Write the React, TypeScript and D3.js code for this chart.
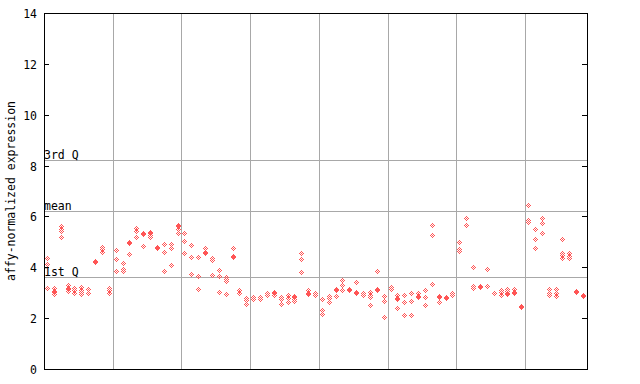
import React from "react";
import * as d3 from "d3";

const yTicks = [0, 2, 4, 6, 8, 10, 12, 14];
const groupSize = 10;
const quartileLabels = ["3rd Q", "mean", "1st Q"];
const quartileValues = [8.22, 6.21, 3.62];

const expression: number[][] = [
  [4.36, 4.12, 3.15],
  [3.16, 3.06, 3.02, 2.94],
  [5.62, 5.5, 5.42, 5.16],
  [3.27, 3.18, 3.14, 3.06],
  [3.18, 3.08, 2.96],
  [3.2, 3.1, 3.0, 2.93],
  [3.11, 2.95],
  [4.23, 4.19],
  [4.79, 4.71, 4.59],
  [3.18, 3.08, 2.98],
  [4.65, 4.32, 3.82],
  [4.16, 3.9, 3.83],
  [4.99, 4.92, 4.52],
  [5.54, 5.41, 5.19],
  [5.34, 5.28, 4.83],
  [5.36, 5.32, 5.24, 5.19],
  [4.76, 4.72],
  [4.91, 4.59, 3.82],
  [4.91, 4.75, 4.06],
  [5.66, 5.62, 5.5, 5.34],
  [5.31, 5.03, 4.53],
  [4.87, 4.4, 3.71],
  [4.4, 3.65, 3.14],
  [4.72, 4.6, 4.56],
  [4.33, 4.25, 3.69],
  [3.89, 3.65, 3.02],
  [3.61, 3.53, 3.44, 2.94],
  [4.75, 4.43, 4.39],
  [3.07, 2.98],
  [2.77, 2.68, 2.55],
  [2.82, 2.74],
  [2.82, 2.74],
  [2.95, 2.91],
  [3.02, 2.95, 2.91],
  [2.82, 2.74, 2.55],
  [2.91, 2.77, 2.63],
  [2.87, 2.8, 2.72, 2.64],
  [4.53, 4.32, 3.78],
  [3.1, 2.96, 2.92],
  [2.95, 2.91],
  [2.74, 2.3, 2.13],
  [2.85, 2.76, 2.63],
  [3.12, 3.08, 2.85],
  [3.5, 3.29, 3.1],
  [3.12, 3.08],
  [3.39, 3.01, 2.97],
  [2.95, 2.91],
  [2.99, 2.9, 2.82, 2.51],
  [3.85, 3.12, 3.08],
  [2.86, 2.67, 2.04],
  [3.2, 3.12],
  [2.9, 2.78, 2.74, 2.39],
  [2.9, 2.6, 2.11],
  [2.98, 2.67, 2.11],
  [2.95, 2.85, 2.81],
  [3.07, 2.82, 2.51],
  [5.63, 5.24, 3.33],
  [2.87, 2.83, 2.63],
  [2.83, 2.79],
  [2.95, 2.91],
  [4.99, 4.68, 4.64],
  [5.93, 5.66],
  [4.0, 3.26, 3.18],
  [3.26, 3.22],
  [3.92, 3.26],
  [2.98],
  [3.08, 2.99, 2.89],
  [3.14, 3.04, 2.96, 2.92],
  [3.11, 3.02, 2.98],
  [2.47, 2.43],
  [6.42, 5.83, 5.75],
  [5.5, 5.1, 4.75],
  [5.91, 5.74, 5.34],
  [3.14, 2.95, 2.91],
  [3.11, 2.98, 2.85],
  [5.1, 4.55, 4.45, 4.36],
  [4.53, 4.42, 4.33],
  [3.05, 3.01],
  [2.89, 2.85],
];

const sampleIds = expression.map((_, i) => `s${i}`);

const W = 640;
const H = 384;
const left = 44;
const right = 587;
const top = 13;
const bottom = 369;
const red = "#ff5555";
const grid = "#a8a8a8";
const font = "'DejaVu Sans Mono', 'Liberation Mono', monospace";

// checker-patterned diamond sprite (radius 2)
const sprite: [number, number][] = [];
for (let dy = -2; dy <= 2; dy++)
  for (let dx = -2; dx <= 2; dx++)
    if (Math.abs(dx) + Math.abs(dy) <= 2 && (dx + dy) % 2 === 0) sprite.push([dx, dy]);

export default function App() {
  const x = d3.scaleBand<string>().domain(sampleIds).range([left, right]);
  const y = d3.scaleLinear().domain([0, 14]).range([bottom, top]);
  const bw = x.bandwidth();

  const groupLines: number[] = [];
  for (let g = groupSize; g < sampleIds.length; g += groupSize) {
    groupLines.push(Math.round(left + bw * g) + 0.5);
  }

  const points: { px: number; py: number; key: string }[] = [];
  expression.forEach((vals, i) => {
    const cx = (x(sampleIds[i]) as number) + bw / 2;
    vals.forEach((v, j) => {
      points.push({ px: Math.round(cx - 0.5), py: Math.round(y(v) - 0.5), key: `${i}-${j}` });
    });
  });

  return (
    <svg
      width={W}
      height={H}
      style={{ position: "absolute", left: 0, top: 0, background: "#fff" }}
      shapeRendering="crispEdges"
    >
      <defs>
        <g id="dm">
          {sprite.map(([dx, dy], k) => (
            <rect key={k} x={dx} y={dy} width={1} height={1} fill={red} />
          ))}
        </g>
      </defs>
      <rect x={0} y={0} width={W} height={H} fill="#fff" />
      {groupLines.map((gx, k) => (
        <line key={k} x1={gx} x2={gx} y1={top} y2={bottom} stroke={grid} strokeWidth={1} />
      ))}
      {quartileValues.map((v, k) => {
        const ly = Math.round(y(v)) + 0.5;
        return (
          <g key={k}>
            <line x1={left} x2={right} y1={ly} y2={ly} stroke={grid} strokeWidth={1} />
            <text x={left} y={ly - 1.5} fontFamily={font} fontSize={11.5} fill="#000">
              {quartileLabels[k]}
            </text>
          </g>
        );
      })}
      {points.map((p) => (
        <use key={p.key} href="#dm" x={p.px} y={p.py} />
      ))}
      {/* frame */}
      <rect x={left + 0.5} y={top + 0.5} width={right - left} height={bottom - top} fill="none" stroke="#000" strokeWidth={1} />
      {yTicks.map((t) => {
        const ty = Math.round(y(t)) + 0.5;
        return (
          <g key={t}>
            <line x1={left} x2={left + 5} y1={ty} y2={ty} stroke="#000" />
            <line x1={right - 5} x2={right} y1={ty} y2={ty} stroke="#000" />
            <text x={37} y={ty + 4} textAnchor="end" fontFamily={font} fontSize={11.5} fill="#000">
              {t}
            </text>
          </g>
        );
      })}
      <text
        transform={`translate(15, ${(top + bottom) / 2}) rotate(-90)`}
        textAnchor="middle"
        fontFamily={font}
        fontSize={11.5}
        fill="#000"
      >
        affy-normalized expression
      </text>
    </svg>
  );
}
